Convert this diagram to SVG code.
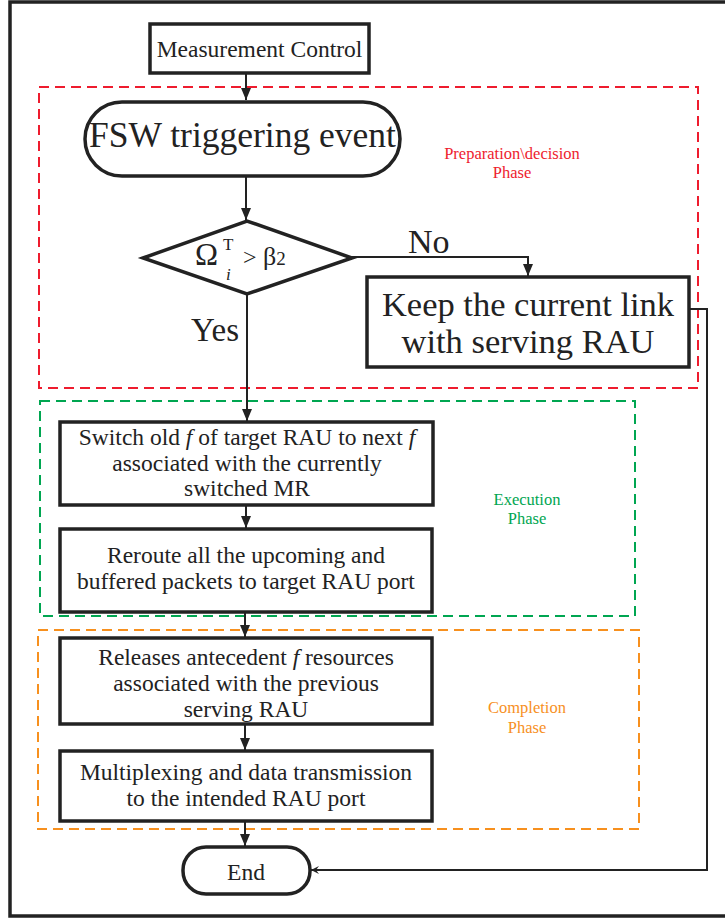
<svg xmlns="http://www.w3.org/2000/svg" width="725" height="920" viewBox="0 0 725 920">
<defs>
<marker id="ah" markerUnits="userSpaceOnUse" markerWidth="12" markerHeight="14" refX="12" refY="5" orient="auto">
<path d="M0,0 L12,5 L0,10 Z" fill="#222"/>
</marker>
<marker id="ahs" markerUnits="userSpaceOnUse" markerWidth="10" markerHeight="10" refX="8" refY="4" orient="auto">
<path d="M0,0 L8,4 L0,8 L3,4 Z" fill="#222"/>
</marker>
<style>
.t{font-family:"Liberation Serif","Times New Roman",serif;fill:#222}
.box{fill:#fff;stroke:#222;stroke-width:3.5}
.c{fill:none;stroke:#222;stroke-width:2}
.ph{fill:none;stroke-width:2;stroke-dasharray:10 6}
.m{font-size:23.5px;text-anchor:middle}
</style>
</defs>
<rect x="0" y="0" width="725" height="920" fill="#fff"/>
<rect x="10" y="2" width="740" height="914" fill="none" stroke="#222" stroke-width="3.5"/>

<g id="phases">
<rect x="39" y="87" width="659" height="301" class="ph" stroke="#ee1c2e"/>
<rect x="40" y="401" width="595" height="215" class="ph" stroke="#00a651"/>
<rect x="38" y="630" width="601" height="199" class="ph" stroke="#f7901e"/>
<text class="t" x="512" y="159" font-size="16.5" text-anchor="middle" style="fill:#ee1c2e">Preparation\decision</text>
<text class="t" x="512" y="178" font-size="16.5" text-anchor="middle" style="fill:#ee1c2e">Phase</text>
<text class="t" x="527" y="505" font-size="16.5" text-anchor="middle" style="fill:#00a651">Execution</text>
<text class="t" x="527" y="524" font-size="16.5" text-anchor="middle" style="fill:#00a651">Phase</text>
<text class="t" x="527" y="713" font-size="16.5" text-anchor="middle" style="fill:#f7901e">Completion</text>
<text class="t" x="527" y="733" font-size="16.5" text-anchor="middle" style="fill:#f7901e">Phase</text>
</g>

<g id="connectors">
<path class="c" d="M246,73 V100" marker-end="url(#ah)"/>
<path class="c" d="M246,176 V220" marker-end="url(#ah)"/>
<path class="c" d="M352,257 H528 V276" marker-end="url(#ah)"/>
<path class="c" d="M247,294 V421" marker-end="url(#ah)"/>
<path class="c" d="M246,505 V528" marker-end="url(#ah)"/>
<path class="c" d="M245,612 V637" marker-end="url(#ah)"/>
<path class="c" d="M245,724 V750" marker-end="url(#ah)"/>
<path class="c" d="M245,821 V846" marker-end="url(#ah)"/>
<path class="c" d="M689,309 H707 V870 H311" marker-end="url(#ahs)"/>
<text class="t" x="408" y="253" font-size="34">No</text>
<text class="t" x="191" y="341" font-size="33">Yes</text>
</g>

<g id="measurement">
<rect x="150" y="24" width="219" height="49" class="box" stroke-width="3"/>
<text class="t m" x="259.5" y="57">Measurement Control</text>
</g>

<g id="fsw">
<rect x="85" y="102" width="315" height="74" rx="37" ry="37" class="box" stroke-width="2.5"/>
<text class="t" x="242.5" y="147" font-size="35.5" text-anchor="middle">FSW triggering event</text>
</g>

<g id="decision">
<polygon points="143,258 247,221 352,258 247,294" class="box" stroke-width="3"/>
<text class="t" x="195" y="265" font-size="31">Ω</text>
<text class="t" x="223" y="250" font-size="17">T</text>
<text class="t" x="226" y="280" font-size="17" font-style="italic">i</text>
<text class="t" x="243" y="265" font-size="24">&gt;</text>
<text class="t" x="263" y="265" font-size="26">β<tspan font-size="19">2</tspan></text>
</g>

<g id="keep">
<rect x="367" y="277" width="322" height="90" class="box" stroke-width="3"/>
<text class="t" x="528" y="316" font-size="34.5" text-anchor="middle">Keep the current link</text>
<text class="t" x="528" y="353" font-size="34.5" text-anchor="middle">with serving RAU</text>
</g>

<g id="switch">
<rect x="60" y="422" width="373" height="83" class="box"/>
<text class="t m" x="247" y="445">Switch old <tspan font-style="italic"> f </tspan> of target RAU to next <tspan font-style="italic">f</tspan></text>
<text class="t m" x="247" y="471">associated with the currently</text>
<text class="t m" x="247" y="496">switched MR</text>
</g>

<g id="reroute">
<rect x="60" y="529" width="372" height="83" class="box"/>
<text class="t m" x="246" y="563">Reroute all the upcoming and</text>
<text class="t m" x="246" y="589">buffered packets to target RAU port</text>
</g>

<g id="releases">
<rect x="60" y="638" width="372" height="86" class="box"/>
<text class="t m" x="246" y="665">Releases antecedent <tspan font-style="italic">f</tspan>  resources</text>
<text class="t m" x="246" y="691">associated with the previous</text>
<text class="t m" x="246" y="717">serving RAU</text>
</g>

<g id="multiplexing">
<rect x="60" y="751" width="372" height="70" class="box"/>
<text class="t m" x="246" y="780">Multiplexing and data transmission</text>
<text class="t m" x="246" y="806">to the intended RAU port</text>
</g>

<g id="end">
<rect x="183" y="847" width="127" height="47" rx="23" ry="23" class="box" stroke-width="3"/>
<text class="t m" x="246" y="880">End</text>
</g>
</svg>
